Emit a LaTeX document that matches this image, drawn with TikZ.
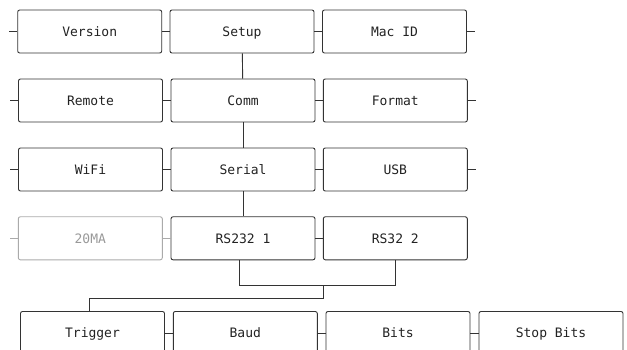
\documentclass[tikz,border=0pt]{standalone}
\usepackage{fontspec}
\setmonofont{DejaVu Sans Mono}
\definecolor{boxline}{HTML}{333333}
\definecolor{boxtext}{HTML}{222222}
\definecolor{offline}{HTML}{AAAAAA}
\definecolor{offtext}{HTML}{999999}

\begin{document}
\begin{tikzpicture}[
    x=1pt,y=-1pt,
    line width=0.9pt,
    menu/.style={draw=boxline,rounded corners=2pt,minimum width=144pt,minimum height=43pt,
        inner sep=0pt,text height=9.5pt,text depth=0pt,text=boxtext,
        font=\ttfamily\fontsize{13}{15}\selectfont},
    menuoff/.style={menu,draw=offline,text=offtext},
    link/.style={draw=boxline},
    linkoff/.style={draw=offline}
]
\clip (0,0) rectangle (627,350);

% menu rows
\node[menu] (ver)    at (89.7,31.5)  {Version};
\node[menu] (setup)  at (242,31.5)   {Setup};
\node[menu] (mac)    at (394.5,31.5) {Mac ID};

\node[menu] (remote) at (90.5,100.5)  {Remote};
\node[menu] (comm)   at (243,100.5)   {Comm};
\node[menu] (format) at (395.3,100.5) {Format};

\node[menu] (wifi)   at (90.5,169.5)  {WiFi};
\node[menu] (serial) at (243,169.5)   {Serial};
\node[menu] (usb)    at (395.3,169.5) {USB};

\node[menuoff] (ma)  at (90.3,238.3)  {20MA};
\node[menu] (rsa)    at (243,238.3)   {RS232 1};
\node[menu] (rsb)    at (395.3,238.3) {RS32 2};

\node[menu] (trig)   at (92.5,333)  {Trigger};
\node[menu] (baud)   at (245.3,333) {Baud};
\node[menu] (bits)   at (398,333)   {Bits};
\node[menu] (stop)   at (551,333)   {Stop Bits};

% side links
\foreach \a/\b in {ver/setup,setup/mac,remote/comm,comm/format,wifi/serial,serial/usb,
                   rsa/rsb,trig/baud,baud/bits,bits/stop}{
    \draw[link] (\a.east) -- (\b.west);
}
\foreach \n in {ver,remote,wifi}{
    \draw[link] (\n.west) -- ++(-8,0);
}
\foreach \n in {mac,format,usb}{
    \draw[link] (\n.east) -- ++(8.5,0);
}
\draw[linkoff] (ma.west) -- ++(-8,0);
\draw[linkoff] (ma.east) -- (rsa.west);

% down links
\draw[link] (setup) -- (comm);
\draw[link] (comm) -- (serial);
\draw[link] (serial) -- (rsa);

\coordinate (fork) at (239.3,285.7);
\coordinate (join) at (323.7,298.7);
\coordinate (drop) at (89.3,298.7);
\draw[link] (rsa.south -| fork) -- (fork) -| (rsb.south);
\draw[link] (join |- fork) -- (join) -- (drop) -- (drop |- trig.north);
\end{tikzpicture}
\end{document}
